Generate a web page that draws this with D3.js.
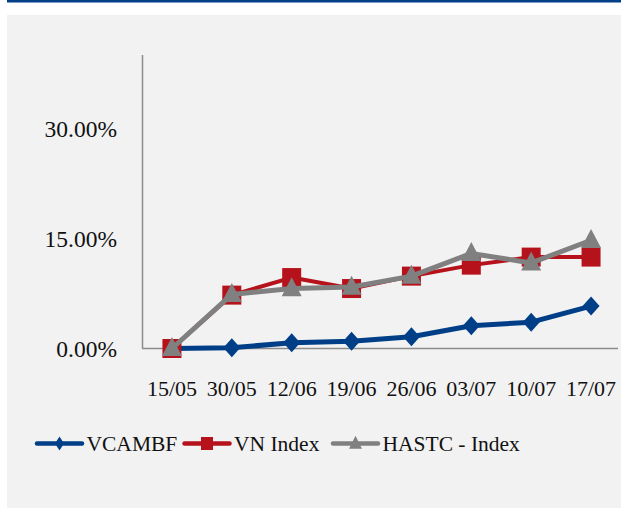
<!DOCTYPE html>
<html>
<head>
<meta charset="utf-8">
<script src="https://cdn.jsdelivr.net/npm/d3@7"></script>
<style>
  html, body { margin: 0; padding: 0; background: #fff; }
  svg { display: block; }
</style>
</head>
<body>
<div id="chart"></div>
<script>
// Weekly cumulative return, %
const dates = ["15/05", "30/05", "12/06", "19/06", "26/06", "03/07", "10/07", "17/07"];
const vcambf = [0, 0.1, 0.8, 1.0, 1.6, 3.1, 3.6, 5.8];
const vnIndex = [0, 7.3, 9.7, 8.2, 9.9, 11.4, 12.5, 12.5];
const hastc = [0, 7.4, 8.2, 8.4, 9.9, 13.0, 11.7, 14.8];
const yTicks = [0, 15, 30];

// marker outlines (w, h) — excel style: square diamond, tall triangle
const markers = {
  diamond: (w, h) => `M0,${-h / 2}L${w / 2},0L0,${h / 2}L${-w / 2},0Z`,
  square: (w, h) => `M${-w / 2},${-h / 2}H${w / 2}V${h / 2}H${-w / 2}Z`,
  triangle: (w, h) => `M0,${-h * 0.6}L${w / 2},${h * 0.4}L${-w / 2},${h * 0.4}Z`,
};

const series = [
  { name: "VCAMBF", values: vcambf, color: "#003f87", width: 5, mark: "diamond", dim: [17, 19], legendDim: [9, 14] },
  { name: "VN Index", values: vnIndex, color: "#b5121b", width: 4, mark: "square", dim: [19, 19], legendDim: [12, 13] },
  { name: "HASTC - Index", values: hastc, color: "#808080", width: 5, mark: "triangle", dim: [20, 19], legendDim: [13, 13] },
];

const W = 621, H = 508;
const svg = d3.select("#chart").append("svg").attr("width", W).attr("height", H);

// page decoration: top rule and grey panel
svg.append("rect").attr("x", 7).attr("y", 0).attr("width", W - 7).attr("height", 2.5).attr("fill", "#003f87");
svg.append("rect").attr("x", 7).attr("y", 15).attr("width", W - 7).attr("height", H - 15).attr("fill", "#f2f2f2");

const x = d3.scaleBand().domain(dates).range([142, 621]);
const y = d3.scaleLinear().domain([0, 40]).range([348.5, 56]);
const font = "'Liberation Serif', 'DejaVu Serif', serif";

// axes
svg.append("line").attr("x1", 142.5).attr("x2", 142.5).attr("y1", 55).attr("y2", 348.5)
  .attr("stroke", "#8c8c8c").attr("stroke-width", 1.5);
svg.append("line").attr("x1", 142).attr("x2", 618).attr("y1", 348.5).attr("y2", 348.5)
  .attr("stroke", "#8c8c8c").attr("stroke-width", 1.5);

svg.append("g").selectAll("text").data(yTicks).join("text")
  .attr("x", 117).attr("y", d => y(d)).attr("dy", "0.35em")
  .attr("text-anchor", "end").attr("font-family", font).attr("font-size", 23.5).attr("fill", "#111")
  .text(d => d.toFixed(2) + "%");

svg.append("g").selectAll("text").data(dates).join("text")
  .attr("x", d => x(d) + x.bandwidth() / 2).attr("y", 388.5).attr("dy", "0.35em")
  .attr("text-anchor", "middle").attr("font-family", font).attr("font-size", 22).attr("fill", "#111")
  .text(d => d);

const cx = i => x(dates[i]) + x.bandwidth() / 2;
const line = d3.line().x((d, i) => cx(i)).y(d => y(d));

series.forEach(s => {
  const g = svg.append("g");
  g.append("path").datum(s.values).attr("d", line)
    .attr("fill", "none").attr("stroke", s.color).attr("stroke-width", s.width)
    .attr("stroke-linejoin", "round").attr("stroke-linecap", "round");
  g.selectAll("path.pt").data(s.values).join("path").attr("class", "pt")
    .attr("d", markers[s.mark](...s.dim))
    .attr("transform", (d, i) => `translate(${cx(i)},${y(d)})`)
    .attr("fill", s.color);
});

// legend
const legendX = [37, 184.5, 333];
const legendY = 443.5;
series.forEach((s, i) => {
  const g = svg.append("g").attr("transform", `translate(${legendX[i]},${legendY})`);
  g.append("line").attr("x1", 0).attr("x2", 45).attr("stroke", s.color).attr("stroke-width", 4.5)
    .attr("stroke-linecap", "round");
  g.append("path").attr("d", markers[s.mark](...s.legendDim))
    .attr("transform", "translate(22.5,0)").attr("fill", s.color);
  g.append("text").attr("x", 49.5).attr("dy", "0.35em")
    .attr("font-family", font).attr("font-size", 21.5).attr("fill", "#111").text(s.name);
});
</script>
</body>
</html>
